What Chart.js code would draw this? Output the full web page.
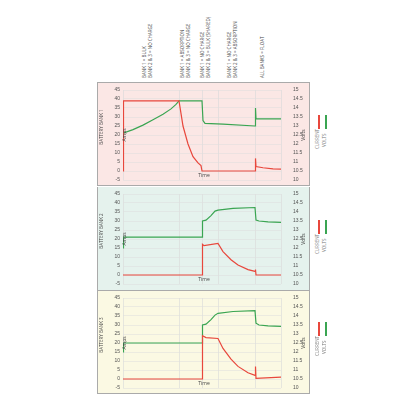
<!DOCTYPE html>
<html><head><meta charset="utf-8">
<script src="https://cdn.jsdelivr.net/npm/chart.js@4"></script>
<style>
body{margin:0;width:416px;height:416px;background:#fff;font-family:"Open Sans",sans-serif;position:relative;overflow:hidden}
.panel{position:absolute;left:97px;width:213px;height:104px;border:1px solid #aaa;box-sizing:border-box}
.panel canvas{position:absolute;left:0;top:0}
.rot{position:absolute;transform:rotate(-90deg);transform-origin:left top;white-space:nowrap;font-size:4.5px;color:#444;line-height:5px}
.leg{position:absolute;width:1.5px;height:14px}
</style></head><body>
<div class="panel" style="top:82px;background:#fbe7e5"><canvas id="c1" width="213" height="104"></canvas></div>
<div class="panel" style="top:187px;background:#e5f2ed;border-top:none"><canvas id="c2" width="213" height="104"></canvas></div>
<div class="panel" style="top:290px;background:#fbf9e3"><canvas id="c3" width="213" height="104"></canvas></div>
<div id="labels"></div>
<script>
// Time axis events
const events = [0, 56, 79, 95, 132, 158];
const ampTicks = [-5, 0, 5, 10, 15, 20, 25, 30, 35, 40, 45];
const voltTicks = [10, 10.5, 11, 11.5, 12, 12.5, 13, 13.5, 14, 14.5, 15];
const topLabels = [
  ["BANK 1 = BULK", "BANK 2 & 3 = NO CHARGE"],
  ["BANK 1 = ABSORPTION", "BANK 2 & 3 = NO CHARGE"],
  ["BANK 1 = NO CHARGE", "BANK 2 & 3 = BULK (SHARED)"],
  ["BANK 1 = NO CHARGE", "BANK 2 & 3 = ABSORPTION"],
  ["ALL BANKS = FLOAT"]
];
const topLabelX = [145, 183, 203, 230, 263];

const current1 = [[0,0],[0.5,39],[56,39],[60,25],[65,15],[70,8],[75,4.5],[78,3],[79,0],[132,0],[132.5,7],[133,2.5],[140,1.8],[150,1.2],[158,1]];
const volts1 = [[0,12.6],[10,12.8],[20,13.05],[30,13.35],[40,13.65],[48,13.95],[53,14.2],[56,14.4],[79,14.4],[80,13.3],[82,13.15],[100,13.1],[132,13.0],[132.5,14.0],[133,13.4],[158,13.4]];
const current2 = [[0,0],[79,0],[79.5,17],[81,16.3],[95,17.5],[100,13],[108,8.5],[115,5.5],[125,3],[132,2],[132.5,3],[133,0],[158,0]];
const volts2 = [[0,12.0],[0.5,12.6],[79,12.6],[79.5,13.5],[83,13.55],[88,13.8],[92,14.05],[95,14.1],[110,14.2],[132,14.25],[133,13.55],[136,13.5],[145,13.45],[158,13.42]];
const current3 = [[0,0],[79,0],[79.5,24],[83,23],[95,22.5],[100,17],[108,11],[115,7],[125,3.5],[132,2],[132.5,7],[133,0.3],[158,1]];
const volts3 = [[0,12.0],[0.5,12.5],[79,12.5],[79.5,13.5],[83,13.55],[88,13.8],[92,14.05],[95,14.15],[110,14.25],[132,14.3],[133,13.6],[136,13.5],[145,13.45],[158,13.42]];

const pts = a => a.map(p => ({x: p[0], y: p[1]}));
const txt = "#555";

function makeChart(id, cur, volt, bank) {
  new Chart(document.getElementById(id), {
    type: "line",
    data: {datasets: [
      {data: pts(cur), borderColor: "#e8473c", borderWidth: 1.2, pointRadius: 0, yAxisID: "y"},
      {data: pts(volt), borderColor: "#3aa552", borderWidth: 1.2, pointRadius: 0, yAxisID: "y1"}
    ]},
    options: {
      responsive: false, animation: false, events: [],
      layout: {padding: {top: 1, bottom: 2, left: 0, right: 0}},
      plugins: {legend: {display: false}, tooltip: {enabled: false}},
      scales: {
        x: {type: "linear", min: 0, max: 158,
          afterBuildTicks: s => { s.ticks = events.map(v => ({value: v})); },
          afterFit: s => { s.height = 0; },
          ticks: {display: false}, border: {display: false},
          grid: {color: "#d8d8d8", lineWidth: 0.6, drawTicks: false}},
        y: {min: -5, max: 45, position: "left",
          afterBuildTicks: s => { s.ticks = ampTicks.map(v => ({value: v})); },
          afterFit: s => { s.width = 25; },
          ticks: {font: {size: 5}, color: txt, padding: 3, autoSkip: false}, border: {display: false},
          grid: {color: "#dcdcdc", lineWidth: 0.5, drawTicks: false}},
        y1: {min: 10, max: 15, position: "right",
          afterBuildTicks: s => { s.ticks = voltTicks.map(v => ({value: v})); },
          afterFit: s => { s.width = 30; },
          ticks: {font: {size: 5}, color: txt, padding: 4, autoSkip: false, callback: v => String(v)}, border: {display: false},
          grid: {display: false}}
      }
    },
    plugins: [{id: "labels", afterDraw(c) {
      const ctx = c.ctx, a = c.chartArea;
      ctx.save();
      ctx.fillStyle = "#444"; ctx.font = "5px 'Open Sans'"; ctx.textAlign = "center";
      ctx.fillText("Time", c.scales.x.getPixelForValue(79) + 2, c.scales.y.getPixelForValue(0) + 6);
      ctx.translate(a.left + 3, (a.top + a.bottom) / 2); ctx.rotate(-Math.PI / 2);
      ctx.fillText("Amps", 0, 0);
      ctx.restore(); ctx.save();
      ctx.fillStyle = "#444"; ctx.font = "5px 'Open Sans'"; ctx.textAlign = "center";
      ctx.translate(a.right + 24, (a.top + a.bottom) / 2); ctx.rotate(-Math.PI / 2);
      ctx.fillText("Volts", 0, 0);
      ctx.restore(); ctx.save();
      ctx.fillStyle = "#444"; ctx.font = "4.5px 'Open Sans'"; ctx.textAlign = "center";
      ctx.translate(5, (a.top + a.bottom) / 2 - 8); ctx.rotate(-Math.PI / 2);
      ctx.fillText("BATTERY " + bank, 0, 0);
      ctx.restore();
    }}]
  });
}
makeChart("c1", current1, volts1, "BANK 1");
makeChart("c2", current2, volts2, "BANK 2");
makeChart("c3", current3, volts3, "BANK 3");

// top rotated labels and legends
const L = document.getElementById("labels");
topLabels.forEach((lines, i) => {
  lines.forEach((t, j) => {
    const d = document.createElement("div");
    d.className = "rot"; d.textContent = t;
    d.style.left = (topLabelX[i] + j * 6 - 3) + "px";
    d.style.top = "78px";
    L.appendChild(d);
  });
});
[115, 220, 322].forEach(y => {
  L.insertAdjacentHTML("beforeend",
    `<div class="leg" style="left:318px;top:${y}px;background:#e8473c"></div>
     <div class="leg" style="left:325px;top:${y}px;background:#3aa552"></div>
     <div class="rot" style="left:315px;top:${y + 34}px;color:#777">CURRENT</div>
     <div class="rot" style="left:322px;top:${y + 32}px;color:#777">VOLTS</div>`);
});
</script>
</body></html>
